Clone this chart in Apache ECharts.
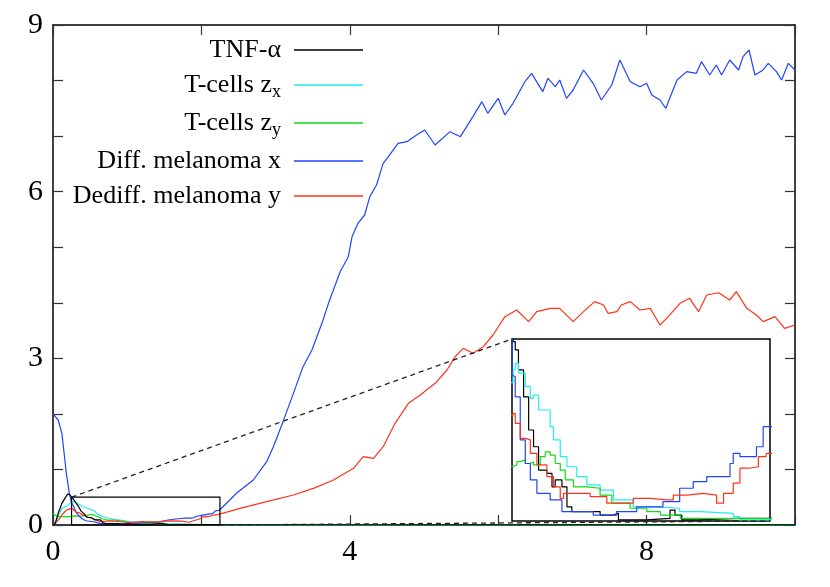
<!DOCTYPE html>
<html>
<head>
<meta charset="utf-8">
<script src="https://cdn.jsdelivr.net/npm/echarts@6/dist/echarts.min.js"></script>
<style>
  html, body { margin: 0; padding: 0; background: #fff; }
  #chart { width: 830px; height: 587px; }
</style>
</head>
<body>
<div id="chart"></div>
<script>
const FONT = 'Liberation Serif';

const names = ['TNF-α', 'T-cells zx', 'T-cells zy', 'Diff. melanoma x', 'Dediff. melanoma y'];
const colors = ['#000000', '#22eeee', '#11dd11', '#1f45ff', '#ff3319'];

// [time, level]
const tnf = [
  [0, 0], [0.03, 0.03], [0.07, 0.21], [0.12, 0.39], [0.16, 0.48], [0.2, 0.56],
  [0.23, 0.54], [0.258, 0.493], [0.275, 0.47], [0.30, 0.415], [0.34, 0.341], [0.379, 0.25],
  [0.417, 0.204], [0.456, 0.14], [0.52, 0.131], [0.56, 0.094], [0.585, 0.113],
  [0.637, 0.094], [0.676, 0.039], [0.714, 0.026], [0.88, 0.026], [0.933, 0.016],
  [1.036, 0.021], [1.075, 0.003], [1.295, 0.007], [1.475, 0.03], [1.514, 0.016],
  [1.566, 0.003], [1.7, 0.007], [2.0, 0.007], [2.25, 0.005], [10, 0.003]
];
const cellsZx = [
  [0, 0], [0.05, 0.09], [0.12, 0.3], [0.18, 0.34], [0.22, 0.38], [0.258, 0.415],
  [0.275, 0.433], [0.30, 0.406], [0.353, 0.369], [0.392, 0.337], [0.417, 0.346],
  [0.456, 0.305], [0.546, 0.259], [0.572, 0.223], [0.624, 0.177], [0.676, 0.149],
  [0.752, 0.122], [0.83, 0.099], [0.933, 0.085], [1.036, 0.058], [1.19, 0.039],
  [1.37, 0.035], [1.55, 0.026], [1.71, 0.021], [1.965, 0.012], [2.017, 0.003], [10, 0.002]
];
const cellsZy = [
  [0, 0.2], [0.02, 0.18], [0.07, 0.15], [0.14, 0.15], [0.2, 0.15], [0.258, 0.154], [0.288, 0.163],
  [0.314, 0.168], [0.353, 0.158], [0.392, 0.163], [0.417, 0.154], [0.469, 0.177],
  [0.508, 0.19], [0.546, 0.181], [0.585, 0.158], [0.624, 0.14], [0.663, 0.113],
  [0.727, 0.094], [0.83, 0.09], [0.933, 0.071], [1.024, 0.049], [1.166, 0.035],
  [1.295, 0.026], [1.4, 0.016], [1.555, 0.007], [1.685, 0.003], [10, 0.003]
];
const melX = [
  [0, 2.0], [0.02, 1.98], [0.07, 1.89], [0.12, 1.65], [0.15, 1.29], [0.18, 0.93],
  [0.22, 0.57], [0.25, 0.4],
  [0.258, 0.397], [0.275, 0.341], [0.314, 0.223], [0.353, 0.158], [0.392, 0.113],
  [0.443, 0.076], [0.546, 0.058], [0.637, 0.026], [0.752, 0.026], [0.88, 0.016],
  [1.06, 0.026], [1.217, 0.039], [1.42, 0.053], [1.55, 0.09], [1.655, 0.108],
  [1.76, 0.122], [1.875, 0.122], [1.94, 0.158], [1.965, 0.186], [2.017, 0.177],
  [2.145, 0.204], [2.197, 0.259], [2.24, 0.261], [2.48, 0.58], [2.7, 0.81],
  [2.88, 1.14], [2.97, 1.41], [3.1, 1.86], [3.24, 2.37], [3.37, 2.85], [3.49, 3.15],
  [3.64, 3.69], [3.72, 4.02], [3.87, 4.56], [3.98, 4.83], [4.03, 5.19], [4.11, 5.43],
  [4.2, 5.58], [4.27, 5.91], [4.36, 6.12], [4.45, 6.51], [4.52, 6.63], [4.65, 6.87],
  [4.77, 6.9], [4.9, 7.02], [5.01, 7.11], [5.15, 6.84], [5.35, 7.08],
  [5.49, 6.99], [5.66, 7.35], [5.78, 7.62], [5.86, 7.41], [6.0, 7.68], [6.09, 7.38],
  [6.2, 7.59], [6.36, 7.98], [6.45, 8.13], [6.6, 7.8], [6.67, 8.04], [6.77, 7.89],
  [6.83, 8.01], [6.92, 7.68], [7.01, 7.83], [7.15, 8.19], [7.28, 7.95], [7.39, 7.65],
  [7.53, 7.92], [7.64, 8.37], [7.78, 7.98], [7.91, 7.89], [8.0, 7.95], [8.07, 7.74],
  [8.18, 7.65], [8.26, 7.5], [8.32, 7.71], [8.41, 8.01], [8.54, 8.16], [8.67, 8.13],
  [8.74, 8.34], [8.85, 8.1], [8.94, 8.28], [9.01, 8.1], [9.12, 8.37], [9.24, 8.19],
  [9.3, 8.43], [9.38, 8.55], [9.46, 8.1], [9.57, 8.19], [9.64, 8.31], [9.75, 8.16],
  [9.82, 8.01], [9.91, 8.31], [10, 8.19]
];
const melY = [
  [0, 0], [0.03, 0.03], [0.08, 0.1], [0.12, 0.18], [0.18, 0.27], [0.23, 0.29], [0.258, 0.296],
  [0.275, 0.268], [0.314, 0.227], [0.353, 0.223], [0.392, 0.186], [0.443, 0.154],
  [0.52, 0.122], [0.572, 0.094], [0.624, 0.062], [0.65, 0.076], [0.778, 0.076],
  [0.856, 0.067], [0.985, 0.049], [1.06, 0.049], [1.19, 0.062], [1.32, 0.058],
  [1.45, 0.058], [1.5, 0.071], [1.605, 0.076], [1.73, 0.071], [1.836, 0.049],
  [1.89, 0.076], [1.965, 0.104], [2.017, 0.145], [2.09, 0.149], [2.16, 0.177],
  [2.22, 0.186], [2.52, 0.3], [2.88, 0.42], [3.24, 0.54], [3.51, 0.66], [3.78, 0.81],
  [4.05, 1.02], [4.18, 1.23], [4.32, 1.2], [4.45, 1.41], [4.61, 1.83], [4.79, 2.19],
  [4.95, 2.34], [5.15, 2.55], [5.31, 2.79], [5.42, 3.03], [5.53, 3.18], [5.66, 3.09],
  [5.8, 3.21], [5.93, 3.42], [6.09, 3.75], [6.25, 3.87], [6.41, 3.66],
  [6.52, 3.84], [6.7, 3.9], [6.83, 3.9], [7.01, 3.66], [7.15, 3.84], [7.3, 4.02],
  [7.42, 3.96], [7.48, 3.81], [7.6, 3.84], [7.66, 3.96], [7.78, 4.02], [7.91, 3.87],
  [8.05, 3.9], [8.18, 3.6], [8.27, 3.72], [8.45, 3.99], [8.58, 4.08], [8.7, 3.84],
  [8.81, 4.14], [8.97, 4.18], [9.12, 4.05], [9.21, 4.2], [9.35, 3.9], [9.48, 3.78],
  [9.57, 3.66], [9.73, 3.75], [9.86, 3.54], [10, 3.6]
];
const seriesData = [tnf, cellsZx, cellsZy, melX, melY];

// zoomed window shown in the inset
const zoomX = [0.25, 2.25];
const zoomY = [0, 0.5];

const legendLabels = {
  'TNF-α': 'TNF-α',
  'T-cells zx': 'T-cells z{s|x}',
  'T-cells zy': 'T-cells z{s|y}',
  'Diff. melanoma x': 'Diff. melanoma x',
  'Dediff. melanoma y': 'Dediff. melanoma y',
};

const chart = echarts.init(document.getElementById('chart'));

const tickAxis = (extra) => Object.assign({
  type: 'value',
  gridIndex: 0,
  axisLine: { show: true, onZero: false, lineStyle: { color: '#000', width: 1.5 } },
  axisTick: { inside: true, length: 10, lineStyle: { color: '#333', width: 1.2 } },
  splitLine: { show: false },
  axisLabel: { show: false },
}, extra);

const mainSeries = seriesData.map((d, i) => ({
  name: names[i],
  type: 'line',
  xAxisIndex: 0,
  yAxisIndex: 0,
  data: d,
  showSymbol: false,
  lineStyle: { color: colors[i], width: 1.2 },
  itemStyle: { color: colors[i] },
  z: 3 + (i === 0 ? 1 : 0),
  silent: true,
}));

const insetSeries = seriesData.map((d, i) => ({
  name: names[i],
  type: 'line',
  xAxisIndex: 2,
  yAxisIndex: 2,
  data: d,
  step: 'end',
  showSymbol: false,
  clip: true,
  lineStyle: { color: colors[i], width: 1.2 },
  itemStyle: { color: colors[i] },
  silent: true,
}));

chart.setOption({
  animation: false,
  textStyle: { fontFamily: FONT },
  grid: [
    { left: 53, top: 25, right: 35, bottom: 62 },
    { left: 512, top: 339, width: 258, height: 182, show: true, borderColor: '#000', borderWidth: 1.5, backgroundColor: 'transparent' },
  ],
  legend: {
    orient: 'vertical',
    align: 'right',
    right: 462,
    top: 32,
    itemWidth: 69,
    itemHeight: 1.5,
    itemGap: 9,
    icon: 'rect',
    data: names,
    formatter: (n) => legendLabels[n],
    textStyle: {
      fontFamily: FONT, fontSize: 26, color: '#000', padding: [0, 8, 0, 0],
      rich: { s: { fontFamily: FONT, fontSize: 18, color: '#000', padding: [14, 0, 0, 0] } },
    },
    selectedMode: false,
  },
  xAxis: [
    tickAxis({
      position: 'bottom', min: 0, max: 10, interval: 2,
      axisLabel: { show: true, margin: 12, fontFamily: FONT, fontSize: 30, color: '#000',
        formatter: (v) => (v % 4 === 0 ? String(v) : '') },
    }),
    tickAxis({ position: 'top', min: 0, max: 10, interval: 2 }),
    { type: 'value', gridIndex: 1, min: zoomX[0], max: zoomX[1], show: false, splitLine: { show: false } },
  ],
  yAxis: [
    tickAxis({
      position: 'left', min: 0, max: 9, interval: 1,
      axisLabel: { show: true, margin: 10, fontFamily: FONT, fontSize: 30, color: '#000',
        padding: [11, 0, 0, 0],
        formatter: (v) => (v % 3 === 0 ? String(v) : '') },
    }),
    tickAxis({ position: 'right', min: 0, max: 9, interval: 1 }),
    { type: 'value', gridIndex: 1, min: zoomY[0], max: zoomY[1], show: false, splitLine: { show: false } },
  ],
  series: mainSeries.concat(insetSeries),
});

// zoom box in the main plot and the dashed connectors to the inset
const a0 = chart.convertToPixel({ gridIndex: 0 }, [zoomX[0], zoomY[1]]);
const b0 = chart.convertToPixel({ gridIndex: 0 }, [zoomX[1], zoomY[0]]);
const a1 = chart.convertToPixel({ gridIndex: 1 }, [zoomX[0], zoomY[1]]);
const b1 = chart.convertToPixel({ gridIndex: 1 }, [zoomX[1], zoomY[0]]);
const dash = { stroke: '#222', lineWidth: 1.3, lineDash: [5, 4] };

chart.setOption({
  graphic: [
    { type: 'rect', shape: { x: a0[0], y: a0[1], width: b0[0] - a0[0], height: b0[1] - a0[1] },
      style: { fill: 'none', stroke: '#000', lineWidth: 1.2 }, z: 10, silent: true },
    { type: 'line', shape: { x1: a0[0], y1: a0[1], x2: a1[0], y2: a1[1] }, style: dash, z: 10, silent: true },
    { type: 'line', shape: { x1: b0[0], y1: b0[1], x2: b1[0], y2: b1[1] }, style: dash, z: 10, silent: true },
  ],
});
</script>
</body>
</html>
